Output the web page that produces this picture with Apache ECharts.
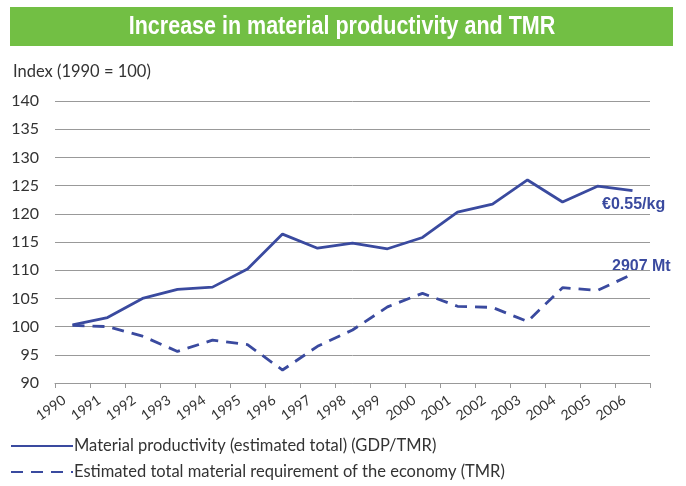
<!DOCTYPE html>
<html>
<head>
<meta charset="utf-8">
<script src="https://cdn.jsdelivr.net/npm/echarts@6/dist/echarts.min.js"></script>
<style>
  html, body { margin: 0; padding: 0; background: #fff; }
  #main { width: 686px; height: 486px; }
</style>
</head>
<body>
<div id="main"></div>
<script>
var years = ['1990','1991','1992','1993','1994','1995','1996','1997','1998','1999','2000','2001','2002','2003','2004','2005','2006'];
var productivity = [100.3, 101.6, 105.0, 106.6, 107.0, 110.2, 116.4, 113.9, 114.8, 113.8, 115.8, 120.3, 121.7, 126.0, 122.1, 124.9, 124.1];
var tmr = [100.2, 100.0, 98.3, 95.6, 97.6, 96.8, 92.3, 96.5, 99.4, 103.5, 105.9, 103.6, 103.4, 100.9, 106.9, 106.4, 109.3];
var seriesNames = ['Material productivity (estimated total) (GDP/TMR)', 'Estimated total material requirement of the economy (TMR)'];
var blue = '#3a4a9f';
var bodyFont = 'Lato';

var myChart = echarts.init(document.getElementById('main'));
myChart.setOption({
  animation: false,
  color: [blue, blue],
  graphic: [
    {
      type: 'rect',
      left: 10, top: 7,
      shape: { width: 663, height: 39 },
      style: { fill: '#72bf44' }
    },
    {
      type: 'text',
      x: 342, y: 27,
      scaleX: 0.86,
      style: {
        text: 'Increase in material productivity and TMR',
        fill: '#fff',
        align: 'center',
        verticalAlign: 'middle',
        font: 'bold 25px "Liberation Sans", Arial, sans-serif'
      }
    },
    {
      type: 'text',
      left: 13, top: 63,
      style: { text: 'Index (1990 = 100)', fill: '#333', font: '16.5px ' + bodyFont }
    },
    {
      type: 'text',
      left: 602, top: 197,
      style: { text: '€0.55/kg', fill: blue, font: 'bold 16px "Liberation Sans", Arial, sans-serif' }
    },
    {
      type: 'text',
      left: 612, top: 259,
      style: { text: '2907 Mt', fill: blue, font: 'bold 16px "Liberation Sans", Arial, sans-serif' }
    }
  ],
  grid: {
    left: 55,
    right: 36,
    top: 101,
    bottom: 103
  },
  legend: {
    orient: 'vertical',
    left: 10,
    top: 436,
    padding: 0,
    itemWidth: 62,
    itemHeight: 14,
    itemGap: 6,
    itemStyle: { opacity: 0 },
    textStyle: { fontFamily: bodyFont, fontSize: 16.5, lineHeight: 20, color: '#333', padding: [0, 0, 0, -4] },
    data: seriesNames
  },
  xAxis: {
    type: 'category',
    data: years,
    boundaryGap: true,
    axisLine: { lineStyle: { color: '#999', width: 1 } },
    axisTick: { show: true, length: 5, lineStyle: { color: '#999' } },
    axisLabel: {
      rotate: 35,
      margin: 10,
      padding: [0, 10, 0, 0],
      color: '#333',
      fontFamily: bodyFont,
      fontSize: 14,
      interval: 0
    }
  },
  yAxis: {
    type: 'value',
    min: 90,
    max: 140,
    interval: 5,
    axisLine: { show: false },
    axisTick: { show: false },
    splitLine: { lineStyle: { color: '#999', width: 1 } },
    axisLabel: { color: '#333', fontFamily: bodyFont, fontSize: 16, margin: 16 }
  },
  series: [
    {
      name: seriesNames[0],
      type: 'line',
      data: productivity,
      symbol: 'none',
      lineStyle: { color: blue, width: 2.8 }
    },
    {
      name: seriesNames[1],
      type: 'line',
      data: tmr,
      symbol: 'none',
      lineStyle: { color: blue, width: 2.8, type: [12, 8] }
    }
  ]
});
</script>
</body>
</html>
